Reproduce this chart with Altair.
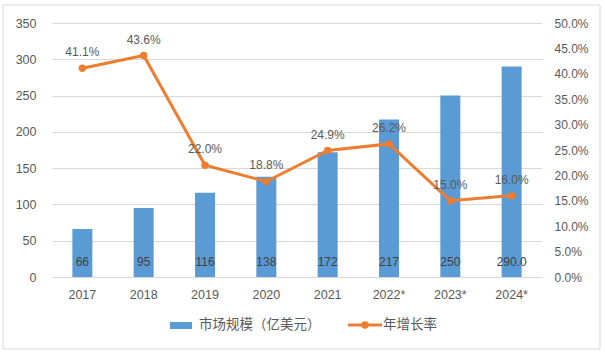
import altair as alt
import pandas as pd

years = ["2017", "2018", "2019", "2020", "2021", "2022*", "2023*", "2024*"]
market = [66, 95, 116, 138, 172, 217, 250, 290]
market_labels = ["66", "95", "116", "138", "172", "217", "250", "290.0"]
growth = [0.411, 0.436, 0.220, 0.188, 0.249, 0.262, 0.150, 0.160]
growth_labels = ["41.1%", "43.6%", "22.0%", "18.8%", "24.9%", "26.2%", "15.0%", "16.0%"]
left_ticks = [0, 50, 100, 150, 200, 250, 300, 350]
right_ticks = [0.0, 0.05, 0.10, 0.15, 0.20, 0.25, 0.30, 0.35, 0.40, 0.45, 0.50]

df = pd.DataFrame({"year": years, "market": market, "mlabel": market_labels,
                   "growth": growth, "glabel": growth_labels})

W, H = 490, 254
FONT = "Liberation Sans"
CJK = "Noto Sans CJK SC"
GRAY = "#595959"
BLUE = "#5B9BD5"
ORANGE = "#ED7D31"

xscale = alt.Scale(paddingInner=0.67, paddingOuter=0.33)

xenc = alt.X("year:N", sort=years, title=None, scale=xscale,
             axis=alt.Axis(labelAngle=0, labelFont=FONT, labelFontSize=12.5, labelColor=GRAY,
                           ticks=False, domainColor="#D9D9D9", labelPadding=11))
xplain = alt.X("year:N", sort=years, scale=xscale, title=None)

yleft = alt.Y("market:Q", title=None,
              scale=alt.Scale(domain=[0, 350], nice=False),
              axis=alt.Axis(values=left_ticks, labelFont=FONT, labelFontSize=12.5,
                            labelColor=GRAY, ticks=False, domain=False, gridColor="#D9D9D9",
                            labelPadding=16, labelOverlap=False))

base = alt.Chart(df)

bars = base.mark_bar(color=BLUE, width=20).encode(x=xenc, y=yleft)

bar_text = base.mark_text(font=FONT, fontSize=12, color="#404040", baseline="middle").encode(
    x=xplain, y=alt.value(H - 15), text="mlabel:N")

left = alt.layer(bars, bar_text)

gscale = alt.Scale(domain=[0, 0.5], nice=False)
raxis = alt.Axis(orient="right", format=".1%", values=right_ticks,
                 labelFont=FONT, labelFontSize=12, labelColor=GRAY, ticks=False,
                 domain=False, grid=False, labelPadding=12, labelOverlap=False)
yright = alt.Y("growth:Q", title=None, scale=gscale, axis=raxis)

line = base.mark_line(color=ORANGE, strokeWidth=3).encode(x=xplain, y=yright)
pts = base.mark_point(color=ORANGE, filled=True, size=55, opacity=1).encode(x=xplain, y=yright)
gtext = base.mark_text(font=FONT, fontSize=12, color=GRAY, dy=-12, baseline="alphabetic").encode(
    x=xplain, y=yright, text="glabel:N")

right = alt.layer(line, pts, gtext)

one = pd.DataFrame({"a": [0]})
border = alt.Chart(one).mark_rect(
    fill=None, stroke="#D9D9D9", strokeWidth=1, clip=False).encode(
    x=alt.value(-49), x2=alt.value(548), y=alt.value(-18), y2=alt.value(326))

leg_bar = alt.Chart(one).mark_rect(color=BLUE, clip=False).encode(
    x=alt.value(118), x2=alt.value(140), y=alt.value(299), y2=alt.value(306))
leg_bar_txt = alt.Chart(one).mark_text(
    text="市场规模（亿美元）", font=CJK, fontSize=13.5, color=GRAY, align="left", baseline="middle").encode(
    x=alt.value(147), y=alt.value(302))
leg_line = alt.Chart(one).mark_rule(color=ORANGE, strokeWidth=3).encode(
    x=alt.value(296), x2=alt.value(330), y=alt.value(302))
leg_pt = alt.Chart(one).mark_point(color=ORANGE, filled=True, size=55, opacity=1).encode(
    x=alt.value(313), y=alt.value(302))
leg_line_txt = alt.Chart(one).mark_text(
    text="年增长率", font=CJK, fontSize=13.5, color=GRAY, align="left", baseline="middle").encode(
    x=alt.value(331), y=alt.value(302))

chart = alt.layer(left, right, border, leg_bar, leg_bar_txt, leg_line, leg_pt, leg_line_txt).resolve_scale(
    y="independent").properties(
    width=W, height=H,
    autosize=alt.AutoSizeParams(type="none"),
    padding={"left": 52, "top": 23, "right": 63, "bottom": 78},
    background="white",
).configure_view(stroke=None)

chart.save("out.html", embed_options={"renderer": "svg", "actions": False})
